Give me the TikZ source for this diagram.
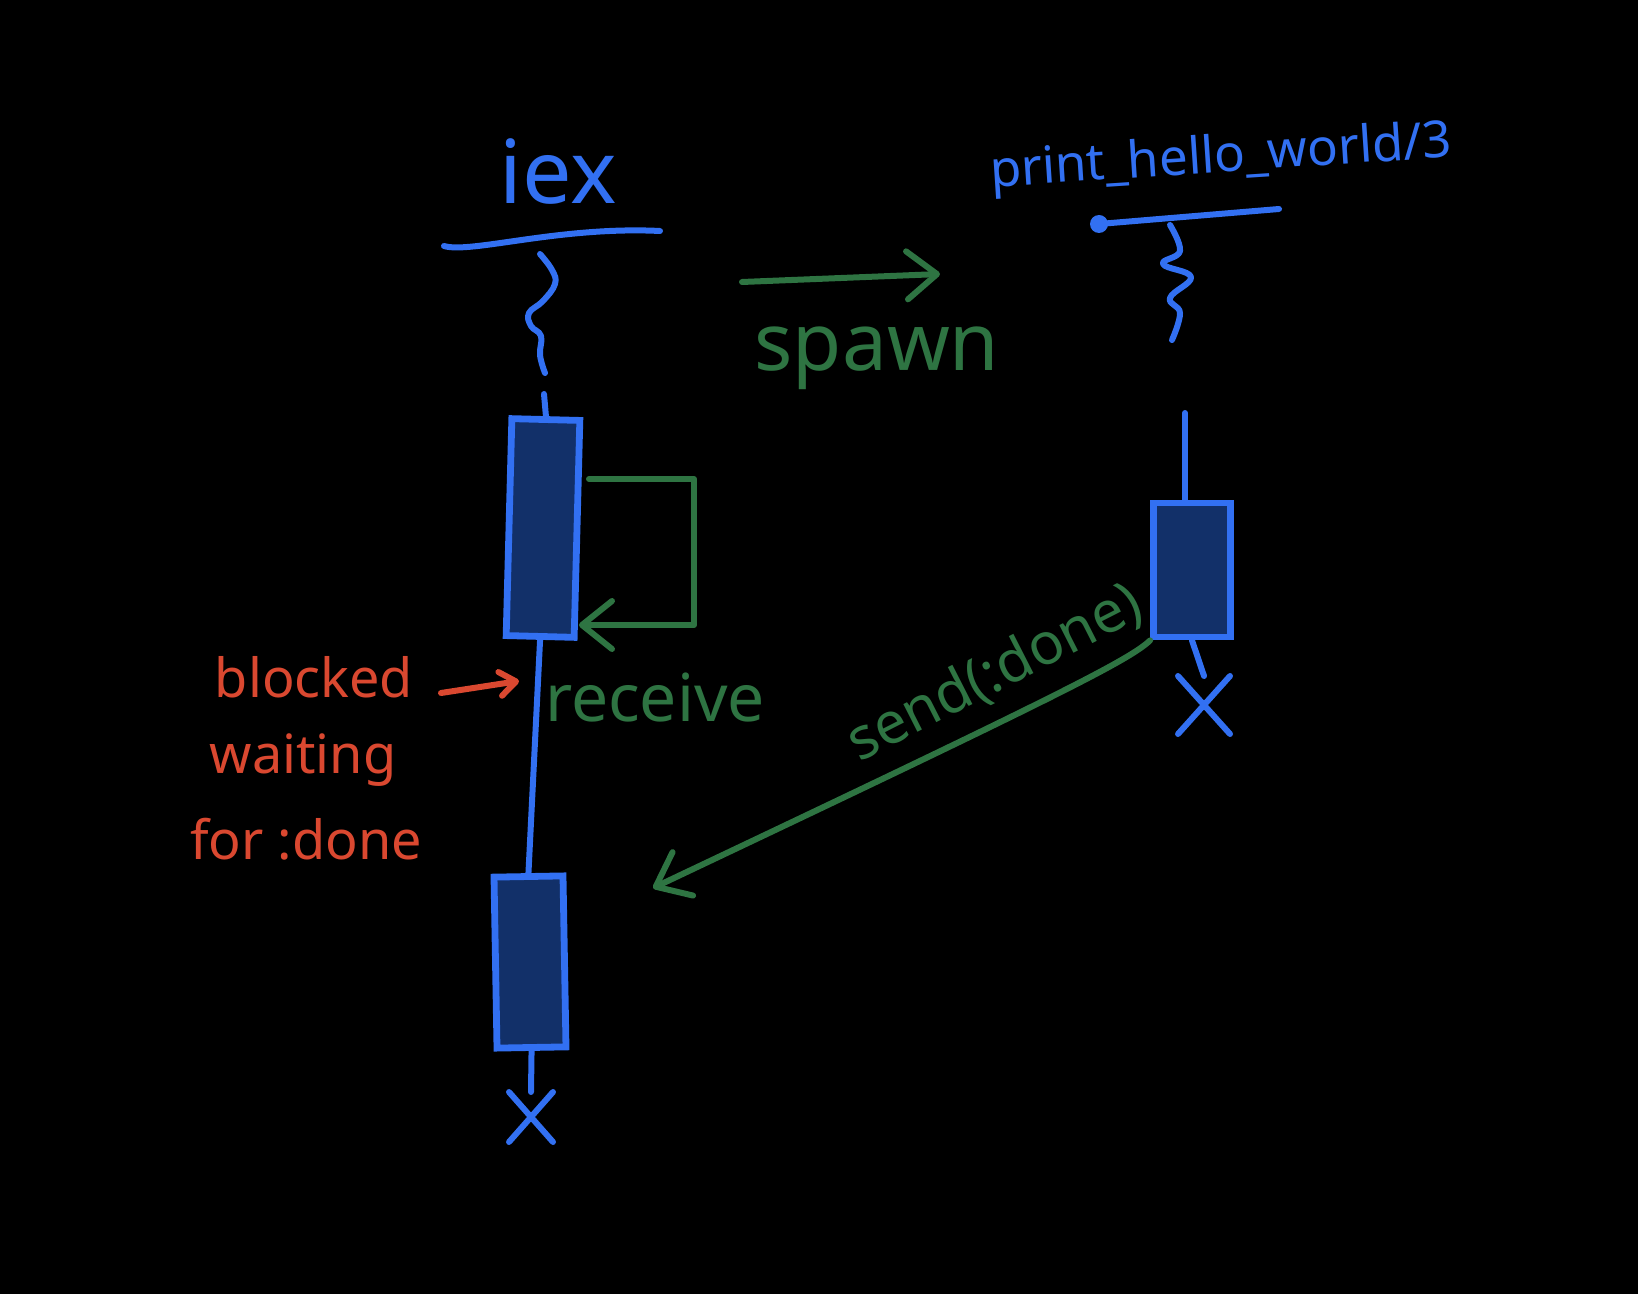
\documentclass[tikz,border=0pt]{standalone}
\usepackage{fontspec}
\setmainfont{Noto Sans}
\usetikzlibrary{arrows.meta,shapes.misc}
\definecolor{lblue}{RGB}{50,112,242}
\definecolor{lgreen}{RGB}{46,116,66}
\definecolor{lred}{RGB}{218,72,48}
\definecolor{bfill}{RGB}{18,48,105}
\tikzset{
  life/.style={draw=lblue, line width=3pt, line cap=round, line join=round},
  actbox/.style={draw=lblue, fill=bfill, line width=3.4pt, inner sep=0pt, rectangle},
  endmark/.style={cross out, draw=lblue, line width=3pt, inner sep=0pt, line cap=round},
  flow/.style={draw=lgreen, line width=3pt, line cap=round, line join=round,
    -{Straight Barb[length=15pt, width=24pt, line width=3pt, round]}},
  note/.style={draw=lred, line width=3pt, line cap=round,
    -{Straight Barb[length=8pt, width=12pt, line width=3pt, round]}},
  bluetxt/.style={text=lblue, inner sep=0pt, anchor=base},
  greentxt/.style={text=lgreen, inner sep=0pt, anchor=base},
  redtxt/.style={text=lred, inner sep=0pt, anchor=base, font=\fontsize{27}{30}\selectfont},
}
\begin{document}
\begin{tikzpicture}[x=0.5pt, y=-0.5pt]
  \fill[black] (0,0) rectangle (1638,1294);
  \useasboundingbox (0,0) rectangle (1638,1294);

  % ---- iex lifeline ----
  \node[bluetxt, font=\fontsize{44}{47}\selectfont] (iex) at (558,204) {iex};
  \coordinate (iexL) at (444,246);
  \coordinate (iexR) at (660,231);
  \draw[life] (iexL) .. controls (470,254) and (560,226) .. (iexR);
  \draw[life] plot[smooth, tension=0.7] coordinates {(540,254) (552,270) (555,284) (543,301) (529,313) (531,326) (541,336) (540,355) (545,373)};
  \coordinate (t1) at (544,394);
  \node[actbox, minimum width=34pt, minimum height=108.5pt, rotate=-1.5] (act1) at (543,528) {};
  \draw[life] (t1) -- (act1.north);
  \node[actbox, minimum width=34.5pt, minimum height=85.5pt, rotate=1] (act2) at (530,962) {};
  \draw[life] (act1.south) -- (act2.north);
  \node[endmark, minimum width=19pt, minimum height=22pt] (x1) at (531,1117) {};
  \draw[life] (act2.south) -- (x1.north);

  % ---- print_hello_world/3 lifeline ----
  \node[bluetxt, font=\fontsize{25.5}{29}\selectfont, rotate=3.75] (phw) at (1222,172) {print\_hello\_world/3};
  \coordinate (phwL) at (1099,224);
  \coordinate (phwR) at (1279,209);
  \draw[life] (phwL) -- (phwR);
  \fill[lblue] (phwL) circle (4.5pt);
  \draw[life] plot[smooth, tension=0.7] coordinates {(1170,225) (1180,251) (1163,264) (1191,277) (1170,298) (1180,313) (1172,340)};
  \coordinate (t2) at (1185,413);
  \node[actbox, minimum width=38.5pt, minimum height=67pt] (act3) at (1192,570) {};
  \draw[life] (t2) -- (t2 |- act3.north);
  \node[endmark, minimum width=23pt, minimum height=26pt] (x2) at (1204,705) {};
  \draw[life] (act3.south) -- (x2.north);

  % ---- spawn ----
  \coordinate (sp1) at (742,282);
  \coordinate (sp2) at (940,274);
  \draw[flow] (sp1) -- (sp2);
  \node[greentxt, font=\fontsize{40}{44}\selectfont] (spawn) at (877,371) {spawn};

  % ---- receive self loop ----
  \coordinate (lp1) at (589,479);
  \coordinate (lp2) at (579,625);
  \draw[flow] (lp1) -- (694,479) -- (694,625) -- (lp2);
  \node[greentxt, font=\fontsize{33}{36}\selectfont] (recv) at (655,721) {receive};

  % ---- blocked note ----
  \node[redtxt] (blocked) at (314,697) {blocked};
  \node[redtxt] (waiting) at (303,773) {waiting};
  \node[redtxt] (fordone) at (306,859) {for :done};
  \coordinate (bl1) at (441,693);
  \coordinate (bl2) at (519,681);
  \draw[note] (bl1) -- (bl2);

  % ---- send(:done) ----
  \draw[flow] (act3.south west) .. controls (1130,660) and (1050,700) .. (653,888);
  \node[greentxt, font=\fontsize{29}{32}\selectfont, rotate=27] (send) at (1003,689) {send(:done)};
\end{tikzpicture}
\end{document}
